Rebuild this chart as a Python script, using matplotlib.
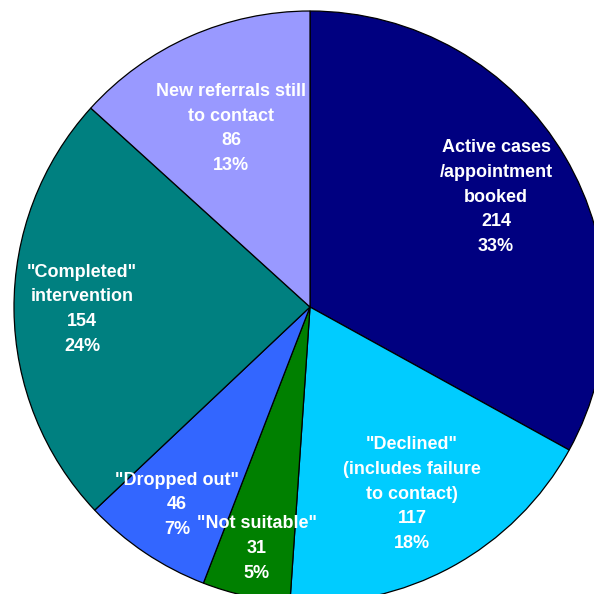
import numpy as np
import matplotlib.pyplot as plt

# Referral outcomes
labels = ['Active cases\n/appointment\nbooked', '"Declined"\n(includes failure\nto contact)',
          '"Not suitable"', '"Dropped out"', '"Completed"\nintervention',
          'New referrals still\nto contact']
counts = [214, 117, 31, 46, 154, 86]
colors = ['#000080', '#00CCFF', '#008000', '#3366FF', '#008080', '#9999FF']
# how far out from the centre each label sits (fraction of radius)
label_r = [0.73, 0.72, 0.835, 0.805, 0.77, 0.66]

plt.rcParams['font.family'] = ['Liberation Sans', 'DejaVu Sans']

fig = plt.figure(figsize=(5.94, 5.94), dpi=100)
ax = fig.add_axes([0, 0, 1, 1])

wedges, _ = ax.pie(counts, colors=colors, startangle=90, counterclock=False,
                   radius=1.0, wedgeprops=dict(edgecolor='black', linewidth=0.9))

total = sum(counts)
step = 17.8  # line pitch in points
for w, lab, n, r in zip(wedges, labels, counts, label_r):
    mid = np.deg2rad((w.theta1 + w.theta2) / 2)
    lines = lab.split('\n') + ['%d' % n, '%d%%' % round(100 * n / total)]
    x0, y0 = r * np.cos(mid), r * np.sin(mid)
    # one text per line so the stacked label stays centred on (x0, y0)
    for i, line in enumerate(lines):
        dy = ((len(lines) - 1) / 2 - i) * step
        ax.annotate(line, (x0, y0), xytext=(0, dy), textcoords='offset points',
                    ha='center', va='center', color='white',
                    fontsize=13, fontweight='bold')

ax.set_xlim(-310 / 296, 284 / 296)
ax.set_ylim(-287 / 296, 307 / 296)
ax.set_aspect('equal')
ax.axis('off')

fig.savefig('out.png', dpi=100)
